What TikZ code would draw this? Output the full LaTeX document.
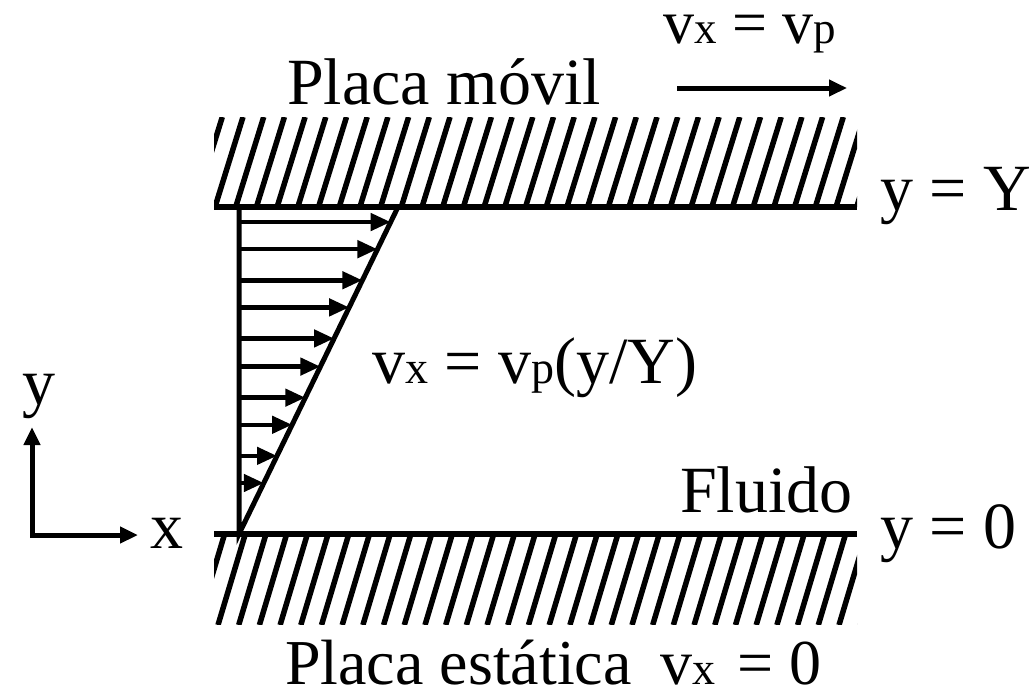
\documentclass[tikz,border=0pt]{standalone}
\usepackage{fontspec}
\setmainfont{Liberation Serif}
\usetikzlibrary{arrows.meta,calc}
\newcommand\sbs[1]{{\fontsize{46}{46}\selectfont #1}}
\newcommand\sbt[1]{{\fontsize{45}{45}\selectfont #1}}
\tikzset{
  lbl/.style={inner sep=0pt, anchor=base west, font=\fontsize{66}{66}\selectfont},
  lbltop/.style={lbl, font=\fontsize{62}{62}\selectfont},
  lblbot/.style={lbl, font=\fontsize{64}{64}\selectfont},
  plate/.style={line width=5.5pt},
  hatchline/.style={line width=5.5pt},
  parr/.style={line width=4.5pt, -{Triangle[length=20pt,width=17pt]}},
  axarr/.style={line width=5pt},
}
\begin{document}
\begin{tikzpicture}[x=1pt,y=-1pt]
\fill[white] (0,0) rectangle (1030,688);
\useasboundingbox (0,0) rectangle (1030,688);
% top plate hatch
\begin{scope}
\clip (214,117) rectangle (857,207);
\foreach \i in {-2,...,33} \draw[hatchline] (215+20.7*\i,207) -- ++(28,-90);
\end{scope}
% bottom plate hatch
\begin{scope}
\clip (214,535) rectangle (857,624);
\foreach \i in {-3,...,33} \draw[hatchline] (245+20.7*\i,535) -- ++(-27,90);
\end{scope}
\draw[plate] (214,207) -- (857,207);
\draw[plate] (214,534) -- (857,534);
% profile
\coordinate (T) at (239,207);
\coordinate (B) at (239,534);
\coordinate (S) at (398,207);
\draw[line width=5pt, line join=miter] (T) -- (B) -- (S);
\foreach \t in {0.954,0.871,0.776,0.693,0.598,0.512,0.417,0.334,0.239,0.156} {
  \path ($(B)!\t!(S)$) coordinate (P);
  \draw[parr] (P -| T) -- (P);
}
% axes
\coordinate (O) at (32,535);
\coordinate (Ay) at (32,427);
\coordinate (Ax) at (138,535);
\draw[axarr, line join=miter, {Triangle[length=18pt,width=16pt]}-{Triangle[length=18pt,width=16pt]}] (Ay) -- (O) -- (Ax);
% top arrow
\coordinate (V1) at (677,88);
\coordinate (V2) at (847,88);
\draw[line width=5pt,-{Triangle[length=18pt,width=16pt]}] (V1) -- (V2);
% labels
\node[lbltop] (vtop) at (663,43) {v\sbt{x} = v\sbt{p}};
\node[lbl] (pm) at (287,104) {Placa móvil};
\node[lbl] (yY) at (880,210) {y = Y};
\node[lbl] (prof) at (372,383) {v\sbs{x} = v\sbs{p}(y/Y)};
\node[lbl] (ylab) at (22,404) {y};
\node[lbl] (xlab) at (150,548) {x};
\node[lbl] (fl) at (680,512) {Fluido};
\node[lbl] (y0) at (880,548) {y = 0};
\node[lblbot] (pe) at (285,684) {Placa estática};
\node[lblbot] (vx0) at (660,684) {v\sbs{x}\hspace{6pt} = 0};
\end{tikzpicture}
\end{document}
